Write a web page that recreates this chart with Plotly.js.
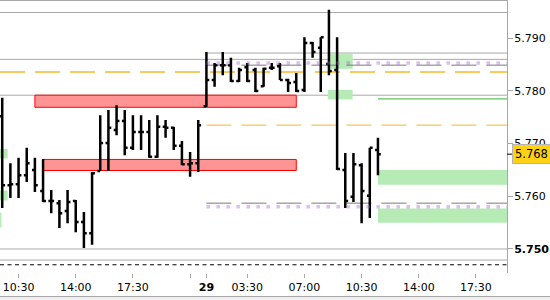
<!DOCTYPE html>
<html>
<head>
<meta charset="utf-8">
<script src="https://cdn.plot.ly/plotly-3.0.1.min.js"></script>
<style>
html, body { margin: 0; padding: 0; background: #ffffff; }
#chart { width: 550px; height: 300px; }
</style>
</head>
<body>
<div id="chart"></div>
<script>
// ---- data ----
const barTimes = [
  '28 09:30','28 10:00','28 10:30','28 11:00','28 11:30','28 12:00','28 12:30','28 13:00','28 13:30','28 14:00',
  '28 14:30','28 15:00','28 15:30','28 16:00','28 16:30','28 17:00','28 17:30','28 18:00','28 18:30','28 19:00',
  '28 19:30','28 20:00','28 20:30','28 21:00','28 21:30',
  '29 01:00','29 01:30','29 02:00','29 02:30','29 03:00','29 03:30','29 04:00','29 04:30','29 05:00','29 05:30',
  '29 06:00','29 06:30','29 07:00','29 07:30','29 08:00','29 08:30','29 09:00','29 09:30','29 10:00','29 10:30',
  '29 11:00','29 11:30'
];
const openP = [
  5.7752,5.7621,5.7623,5.7640,5.7650,5.7610,5.7591,5.7587,5.7572,5.7591,
  5.7551,5.7530,5.7648,5.7701,5.7726,5.7743,5.7692,5.7722,5.7722,5.7675,
  5.7732,5.7730,5.7696,5.7661,5.7663,
  5.7771,5.7821,5.7849,5.7849,5.7819,5.7845,5.7840,5.7809,5.7844,5.7847,
  5.7821,5.7817,5.7802,5.7891,5.7882,5.7851,5.7840,5.7650,5.7599,5.7659,
  5.7601,5.7688
];
const highP = [
  5.7787,5.7663,5.7673,5.7692,5.7673,5.7671,5.7612,5.7593,5.7612,5.7593,
  5.7570,5.7646,5.7754,5.7764,5.7773,5.7764,5.7754,5.7754,5.7745,5.7754,
  5.7745,5.7732,5.7705,5.7684,5.7745,
  5.7874,5.7853,5.7874,5.7863,5.7844,5.7853,5.7844,5.7844,5.7853,5.7853,
  5.7823,5.7834,5.7902,5.7893,5.7902,5.7954,5.7902,5.7682,5.7682,5.7663,
  5.7692,5.7711
];
const lowP = [
  5.7578,5.7597,5.7597,5.7627,5.7608,5.7589,5.7568,5.7540,5.7549,5.7532,
  5.7502,5.7508,5.7648,5.7648,5.7716,5.7678,5.7688,5.7688,5.7673,5.7673,
  5.7711,5.7688,5.7659,5.7637,5.7646,
  5.7770,5.7808,5.7830,5.7817,5.7817,5.7817,5.7798,5.7808,5.7840,5.7821,
  5.7798,5.7798,5.7798,5.7863,5.7798,5.7830,5.7650,5.7578,5.7589,5.7549,
  5.7559,5.7640
];
const closeP = [
  5.7621,5.7623,5.7640,5.7663,5.7621,5.7591,5.7591,5.7568,5.7589,5.7551,
  5.7530,5.7644,5.7701,5.7730,5.7743,5.7692,5.7722,5.7722,5.7675,5.7732,
  5.7730,5.7696,5.7661,5.7663,5.7735,
  5.7821,5.7849,5.7849,5.7819,5.7840,5.7819,5.7800,5.7842,5.7844,5.7821,
  5.7815,5.7800,5.7891,5.7874,5.7902,5.7838,5.7652,5.7591,5.7661,5.7610,
  5.7692,5.7680
];
const lastPrice = 5.768;

// horizontal levels
const grayFullLevels = [5.7949, 5.7860, 5.7792, 5.7500, 5.7479];
const grayDayLevels = [5.7872];
const grayDashDayLevels = [5.7849, 5.7587];
const purpleDotDayLevels = [5.7853, 5.7580];
const blackDashLevel = 5.7470;
const orangeFullLevel = 5.7836;
const orangeDayLevel = 5.7735;
const greenLineLevel = 5.7785;
const dayStart = '29 01:00';
const greenLineStart = '29 11:30';

// zones
const redStart = ['28 11:30', '28 12:00'];
const redEnd   = ['29 06:30', '29 06:30'];
const redLow   = [5.7769, 5.7649];
const redHigh  = [5.7792, 5.7670];
const greenStart = ['28 09:00','28 09:00','28 09:00','29 08:26','29 08:26','29 11:30','29 11:30'];
const greenEnd   = ['28 09:50','28 09:50','28 09:27','29 09:57','29 09:57','29 20:00','29 20:00'];
const greenLow   = [5.7672, 5.7592, 5.7541, 5.7842, 5.7784, 5.7622, 5.7550];
const greenHigh  = [5.7690, 5.7611, 5.7569, 5.7870, 5.7802, 5.7650, 5.7577];

// axes
const xTickTimes = ['28 10:30','28 14:00','28 17:30','28 21:00','29 01:00','29 03:30','29 07:00','29 10:30','29 14:00','29 17:30'];
const xTickText  = ['10:30','14:00','17:30','','<b>29</b>','03:30','07:00','10:30','14:00','17:30'];
const yTickVals = [5.75, 5.76, 5.77, 5.78, 5.79];
const yTickText = ['<b>5.750</b>','5.760','5.770','5.780','5.790'];
const xRange = ['28 09:21:50', '29 19:24'];
const yRange = [5.74544, 5.79727];

// ---- build ----
const toDate = s => '2020-07-' + s.slice(0, 2) + ' ' + s.slice(3);

const GRAY = '#a8a8a8';
const shapes = [];
for (let i = 0; i < greenStart.length; i++) {
  shapes.push({type:'rect', layer:'below', xref:'x', yref:'y',
    x0: toDate(greenStart[i]), x1: toDate(greenEnd[i]), y0: greenLow[i], y1: greenHigh[i],
    fillcolor:'#b6ebb6', line:{width:0}});
}
for (let i = 0; i < redStart.length; i++) {
  shapes.push({type:'rect', layer:'below', xref:'x', yref:'y',
    x0: toDate(redStart[i]), x1: toDate(redEnd[i]), y0: redLow[i], y1: redHigh[i],
    fillcolor:'#ff9494', line:{color:'#ff0000', width:1}});
}
grayFullLevels.forEach(v => shapes.push({type:'line', layer:'below', xref:'paper', yref:'y',
  x0:0, x1:1, y0:v, y1:v, line:{color:GRAY, width:1}}));
grayDayLevels.forEach(v => shapes.push({type:'line', layer:'below', xref:'x', yref:'y',
  x0: toDate(dayStart), x1: toDate('29 20:00'), y0:v, y1:v, line:{color:GRAY, width:1}}));
grayDashDayLevels.forEach(v => shapes.push({type:'line', layer:'below', xref:'x', yref:'y',
  x0: toDate(dayStart), x1: toDate('29 20:00'), y0:v, y1:v, line:{color:'#7a7a7a', width:1, dash:'25px,10px'}}));
shapes.push({type:'line', layer:'below', xref:'paper', yref:'y', x0:0, x1:1,
  y0:blackDashLevel, y1:blackDashLevel, line:{color:'#000', width:1, dash:'4px,3.5px'}});
shapes.push({type:'line', layer:'below', xref:'paper', yref:'y', x0:0, x1:1,
  y0:orangeFullLevel, y1:orangeFullLevel, line:{color:'#f7bb2a', width:1.6, dash:'25px,10px'}});
shapes.push({type:'line', layer:'below', xref:'x', yref:'y', x0: toDate(dayStart), x1: toDate('29 20:00'),
  y0:orangeDayLevel, y1:orangeDayLevel, line:{color:'#f6c55e', width:1.2, dash:'25px,10px'}});
shapes.push({type:'line', layer:'below', xref:'x', yref:'y', x0: toDate(greenLineStart), x1: toDate('29 20:00'),
  y0:greenLineLevel, y1:greenLineLevel, line:{color:'#5cc25c', width:1.3}});
purpleDotDayLevels.forEach(v => shapes.push({type:'line', layer:'above', xref:'x', yref:'y',
  x0: toDate(dayStart), x1: toDate('29 20:00'), y0:v, y1:v,
  line:{color:'rgba(167,92,217,0.4)', width:3.5, dash:'3.5px,6.5px'}}));
// frame top, price tick, bottom strip
shapes.push({type:'line', xref:'paper', yref:'paper', x0:0, x1:1, y0:1, y1:1, line:{color:GRAY, width:2}});
shapes.push({type:'line', xref:'paper', yref:'y', x0:1, x1:1.0099, y0:lastPrice, y1:lastPrice, line:{color:'#000', width:1}});
shapes.push({type:'rect', xref:'paper', yref:'paper', x0:-0.01, x1:1.1, y0:-0.2, y1:-0.0861, fillcolor:'#f0f0f0', line:{width:0}});
shapes.push({type:'line', xref:'paper', yref:'paper', x0:-0.01, x1:1.1, y0:-0.0861, y1:-0.0861, line:{color:GRAY, width:1}});

const trace = {
  type: 'ohlc',
  x: barTimes.map(toDate),
  open: openP, high: highP, low: lowP, close: closeP,
  increasing: {line: {color: '#000', width: 2.5}},
  decreasing: {line: {color: '#000', width: 2.5}},
  tickwidth: 0.35,
  hoverinfo: 'skip',
  showlegend: false
};

const layout = {
  width: 550, height: 300,
  margin: {l: 0, r: 43, t: 0, b: 27},
  paper_bgcolor: '#ffffff', plot_bgcolor: '#ffffff',
  showlegend: false,
  xaxis: {
    type: 'date',
    range: xRange.map(toDate),
    rangebreaks: [{pattern: 'hour', bounds: [22, 1]}],
    rangeslider: {visible: false},
    tickmode: 'array', tickvals: xTickTimes.map(toDate), ticktext: xTickText,
    ticks: 'outside', ticklen: 4, tickcolor: GRAY,
    showgrid: false, zeroline: false, showline: false,
    tickfont: {family: 'DejaVu Sans', size: 11, color: '#000'},
    fixedrange: true
  },
  yaxis: {
    side: 'right',
    range: yRange,
    tickmode: 'array', tickvals: yTickVals, ticktext: yTickText,
    ticks: 'outside', ticklen: 5, tickcolor: GRAY,
    ticklabelstandoff: -1,
    showline: true, linecolor: GRAY, linewidth: 1,
    showgrid: false, zeroline: false,
    tickfont: {family: 'DejaVu Sans', size: 11, color: '#000'},
    fixedrange: true
  },
  shapes: shapes,
  annotations: [{
    xref: 'paper', yref: 'y', x: 1.0095, y: lastPrice,
    xanchor: 'left', yanchor: 'middle', showarrow: false,
    text: lastPrice.toFixed(3),
    bgcolor: '#fcd116', bordercolor: '#b4b4b4', borderwidth: 1, borderpad: 2,
    font: {family: 'DejaVu Sans', size: 11.5, color: '#000'}
  }]
};

Plotly.newPlot('chart', [trace], layout, {displayModeBar: false, staticPlot: true});
</script>
</body>
</html>
